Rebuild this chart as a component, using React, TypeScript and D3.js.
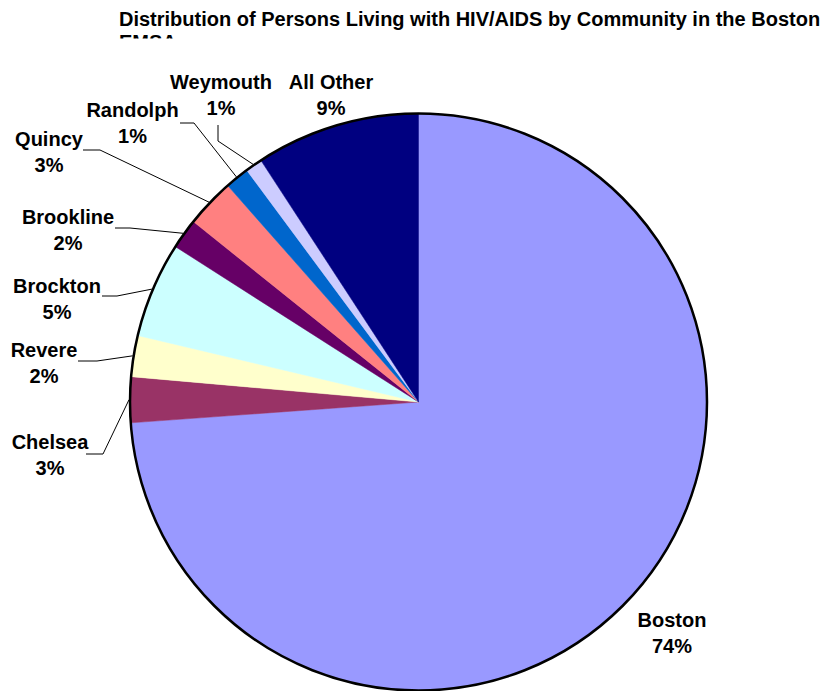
import React from "react";
import * as d3 from "d3";

const categories = ["Boston", "Chelsea", "Revere", "Brockton", "Brookline", "Quincy", "Randolph", "Weymouth", "All Other"];
const values = [73.85, 2.55, 2.3, 5.35, 1.7, 2.75, 1.35, 0.95, 9.2];
const colors = ["#9999FF", "#993366", "#FFFFCC", "#CCFFFF", "#660066", "#FF8080", "#0066CC", "#CCCCFF", "#000080"];
const titleText = "Distribution of Persons Living with HIV/AIDS by Community in the Boston";
const titleText2 = "EMSA";

// label layout: [centerX, firstBaselineY]
const labelPos: [number, number][] = [
  [672, 627], [50, 449], [44, 357], [57, 293], [68, 224], [49, 146], [132.5, 117], [221, 89], [331, 89],
];
// leader start & elbow (null = no leader)
const leaderPts: ([number, number][] | null)[] = [
  null,
  [[86, 454], [103, 454]],
  [[78, 361], [97, 361]],
  [[102, 296], [117, 296]],
  [[115, 228], [130, 228]],
  [[83, 150], [100, 150]],
  [[180, 123], [194, 123]],
  [[218, 125], [218, 141]],
  null,
];

export default function App() {
  const W = 835, H = 691;
  const cx = 418.5, cy = 402, r = 288.5;
  const pie = d3.pie<number>().sort(null).value((d) => d).startAngle(0).endAngle(2 * Math.PI);
  const arcs = pie(values);
  const arc = d3.arc<d3.PieArcDatum<number>>().innerRadius(0).outerRadius(r);
  const font = "'Liberation Sans', Arial, sans-serif";
  const total = d3.sum(values);
  return (
    <svg width={W} height={H} style={{ position: "fixed", left: 0, top: 0, display: "block", background: "#fff" }}>
      <defs>
        <clipPath id="titleClip">
          <rect x={0} y={0} width={W} height={38.5} />
        </clipPath>
      </defs>
      <g clipPath="url(#titleClip)" fontFamily={font} fontWeight="bold" fontSize={20} fill="#000">
        <text x={119} y={26}>{titleText}</text>
        <text x={119} y={49}>{titleText2}</text>
      </g>
      <g transform={`translate(${cx},${cy})`}>
        {arcs.map((a, i) => (
          <path key={i} d={arc(a) || ""} fill={colors[i]} stroke={colors[i]} strokeWidth={0.5} />
        ))}
        <circle r={r} fill="none" stroke="#000" strokeWidth={2.5} />
      </g>
      {arcs.map((a, i) => {
        const pts = leaderPts[i];
        if (!pts) return null;
        const mid = (a.startAngle + a.endAngle) / 2;
        const ex = cx + Math.sin(mid) * (r + 1);
        const ey = cy - Math.cos(mid) * (r + 1);
        const line = d3.line()([...pts, [ex, ey]]);
        return <path key={"l" + i} d={line || ""} fill="none" stroke="#000" strokeWidth={1} />;
      })}
      {categories.map((c, i) => (
        <text key={"t" + i} x={labelPos[i][0]} y={labelPos[i][1]} textAnchor="middle" fontFamily={font} fontWeight="bold" fontSize={20} fill="#000">
          <tspan x={labelPos[i][0]}>{c}</tspan>
          <tspan x={labelPos[i][0]} dy={26}>{Math.round((values[i] / total) * 100) + "%"}</tspan>
        </text>
      ))}
    </svg>
  );
}
